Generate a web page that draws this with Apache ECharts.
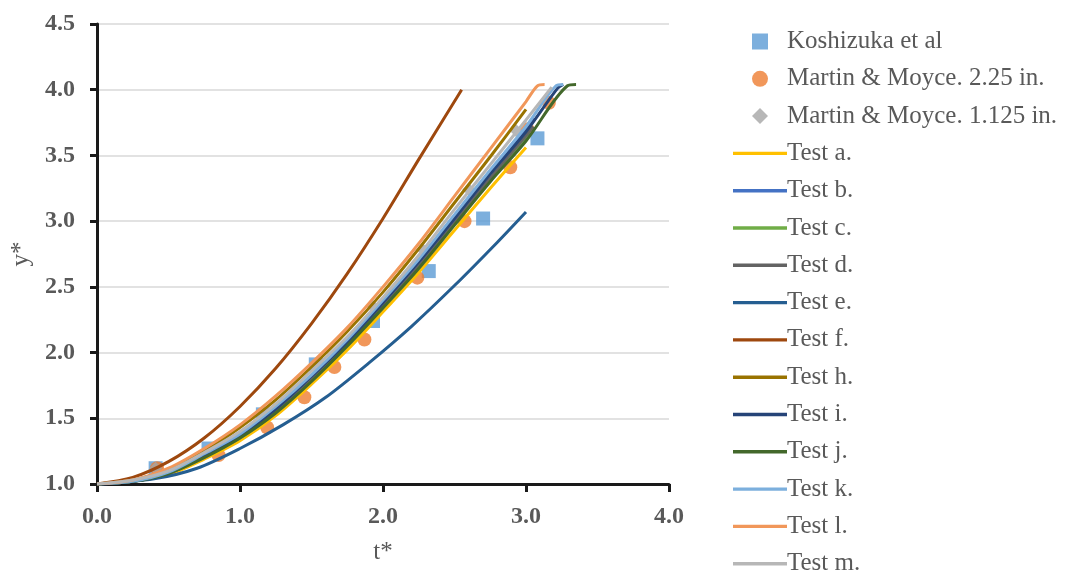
<!DOCTYPE html>
<html>
<head>
<meta charset="utf-8">
<style>
  html, body { margin: 0; padding: 0; background: #ffffff; }
  #chart { width: 1078px; height: 571px; }
</style>
<script src="https://cdn.jsdelivr.net/npm/echarts@6/dist/echarts.min.js"></script>
</head>
<body>
<div id="chart"></div>
<script>
// Experimental data (t*, y*)
const koshizukaT = [0.41, 0.78, 1.16, 1.53, 1.93, 2.32, 2.70, 3.08];
const koshizukaY = [1.12, 1.27, 1.53, 1.91, 2.24, 2.62, 3.02, 3.63];

const martin225T = [0.42, 0.85, 1.19, 1.45, 1.66, 1.87, 2.24, 2.57, 2.89, 3.01, 3.16];
const martin225Y = [1.12, 1.22, 1.43, 1.66, 1.89, 2.10, 2.57, 3.00, 3.41, 3.70, 3.90];

const martin1125T = [0.41, 0.80, 1.17, 1.55, 1.93, 2.28, 2.60, 2.93];
const martin1125Y = [1.12, 1.27, 1.53, 1.93, 2.35, 2.78, 3.24, 3.69];

// Simulated surge-front curves
const tGrid = [0, 0.25, 0.5, 0.75, 1.0, 1.25, 1.5, 1.75, 2.0, 2.25, 2.5, 2.75, 3.0];

const testAT = tGrid;
const testAY = [1.00, 1.02, 1.07, 1.19, 1.33, 1.52, 1.76, 2.02, 2.31, 2.61, 2.93, 3.25, 3.56];

const testBT = tGrid.concat([3.06]);
const testBY = [1.00, 1.02, 1.09, 1.22, 1.38, 1.58, 1.82, 2.09, 2.39, 2.70, 3.03, 3.37, 3.70, 3.78];

const testCT = tGrid.concat([3.03]);
const testCY = [1.00, 1.02, 1.08, 1.21, 1.35, 1.55, 1.79, 2.05, 2.35, 2.65, 2.98, 3.31, 3.63, 3.67];

const testDT = tGrid.concat([3.05]);
const testDY = [1.00, 1.02, 1.08, 1.21, 1.36, 1.56, 1.80, 2.06, 2.36, 2.67, 3.00, 3.33, 3.65, 3.72];

const testET = [0, 0.4, 0.7, 1.0, 1.3, 1.6, 1.9, 2.2, 2.5, 2.8, 3.0];
const testEY = [1.00, 1.04, 1.12, 1.27, 1.45, 1.66, 1.92, 2.20, 2.51, 2.84, 3.07];

const testFT = [0, 0.25, 0.5, 0.75, 1.0, 1.25, 1.5, 1.75, 2.0, 2.25, 2.55];
const testFY = [1.00, 1.05, 1.17, 1.35, 1.59, 1.88, 2.22, 2.60, 3.02, 3.47, 4.00];

const testHT = tGrid;
const testHY = [1.00, 1.03, 1.11, 1.25, 1.43, 1.64, 1.89, 2.16, 2.46, 2.79, 3.14, 3.49, 3.85];

const testIT = tGrid.concat([3.22, 3.26]);
const testIY = [1.00, 1.02, 1.09, 1.22, 1.37, 1.57, 1.82, 2.08, 2.38, 2.69, 3.02, 3.36, 3.68, 4.01, 4.04];

const testJT = tGrid.concat([3.29, 3.35]);
const testJY = [1.00, 1.02, 1.08, 1.20, 1.35, 1.54, 1.78, 2.05, 2.34, 2.64, 2.97, 3.30, 3.61, 4.03, 4.04];

const testKT = tGrid.concat([3.21, 3.26]);
const testKY = [1.00, 1.02, 1.09, 1.23, 1.38, 1.59, 1.83, 2.10, 2.40, 2.71, 3.05, 3.39, 3.72, 4.03, 4.04];

const testLT = tGrid.concat([3.08, 3.13]);
const testLY = [1.00, 1.03, 1.12, 1.27, 1.45, 1.67, 1.92, 2.19, 2.50, 2.83, 3.19, 3.55, 3.91, 4.03, 4.04];

const testMT = tGrid.concat([3.18]);
const testMY = [1.00, 1.03, 1.10, 1.24, 1.40, 1.61, 1.86, 2.12, 2.42, 2.74, 3.09, 3.43, 3.77, 4.02];

const xTicks = { min: 0, max: 4, step: 1 };
const yTicks = { min: 1, max: 4.5, step: 0.5 };

const pairs = (ts, ys) => ts.map((t, i) => [t, ys[i]]);

const FONT = 'Liberation Serif, Times New Roman, serif';
const TEXT = '#595959';

// Marker shapes as paths so the legend keeps them square
const SQUARE = 'path://M0,0L10,0L10,10L0,10Z';
const DIAMOND = 'path://M5,0L10,5L5,10L0,5Z';
const DOT = 'circle';
const STROKE = 'path://M0,0L54,0L54,3.4L0,3.4Z';

const scatter = (name, ts, ys, symbol, size, color) => ({
  name, type: 'scatter', data: pairs(ts, ys), symbol, symbolSize: size,
  itemStyle: { color }, z: 2
});
const curve = (name, ts, ys, color) => ({
  name, type: 'line', data: pairs(ts, ys), smooth: 0.3,
  symbol: 'none', showSymbol: false,
  lineStyle: { color, width: 3 }, itemStyle: { color }, z: 3
});

const series = [
  scatter('Koshizuka et al', koshizukaT, koshizukaY, SQUARE, 14, '#5B9BD5'),
  scatter('Martin & Moyce. 2.25 in.', martin225T, martin225Y, DOT, 14, '#ED7D31'),
  scatter('Martin & Moyce. 1.125 in.', martin1125T, martin1125Y, DIAMOND, 13, '#A5A5A5'),
  curve('Test a.', testAT, testAY, '#FFC000'),
  curve('Test b.', testBT, testBY, '#4472C4'),
  curve('Test c.', testCT, testCY, '#70AD47'),
  curve('Test d.', testDT, testDY, '#636363'),
  curve('Test e.', testET, testEY, '#255E91'),
  curve('Test f.', testFT, testFY, '#9E480E'),
  curve('Test h.', testHT, testHY, '#997300'),
  curve('Test i.', testIT, testIY, '#264478'),
  curve('Test j.', testJT, testJY, '#43682B'),
  curve('Test k.', testKT, testKY, '#7CAFDD'),
  curve('Test l.', testLT, testLY, '#F1975A'),
  curve('Test m.', testMT, testMY, '#B7B7B7')
];

const legendData = series.map(s => ({
  name: s.name,
  icon: s.type === 'line' ? STROKE : s.symbol,
  itemStyle: { color: s.itemStyle.color }
}));

const chart = echarts.init(document.getElementById('chart'), null, { renderer: 'canvas' });
chart.setOption({
  animation: false,
  backgroundColor: '#ffffff',
  grid: { left: 97, right: 409, top: 24, bottom: 87 },
  legend: {
    orient: 'vertical',
    left: 728,
    top: 24,
    height: 900,
    itemWidth: 54,
    itemHeight: 16,
    itemGap: 12.3,
    symbolKeepAspect: true,
    data: legendData,
    textStyle: { fontFamily: FONT, fontSize: 25, color: TEXT, lineHeight: 24, padding: [0, 0, 0, -5] }
  },
  xAxis: {
    type: 'value',
    min: xTicks.min, max: xTicks.max, interval: xTicks.step,
    name: 't*', nameLocation: 'middle', nameGap: 56,
    nameTextStyle: { fontFamily: FONT, fontSize: 25, color: TEXT },
    axisLine: { lineStyle: { color: '#1a1a1a', width: 3 } },
    axisTick: { show: true, length: 8, lineStyle: { color: '#1a1a1a', width: 3 } },
    axisLabel: { fontFamily: FONT, fontSize: 24, fontWeight: 'bold', color: TEXT, margin: 21,
      formatter: v => v.toFixed(1) },
    splitLine: { show: false }
  },
  yAxis: {
    type: 'value',
    min: yTicks.min, max: yTicks.max, interval: yTicks.step,
    name: 'y*', nameLocation: 'middle', nameGap: 62, nameRotate: 90,
    nameTextStyle: { fontFamily: FONT, fontSize: 25, color: TEXT },
    axisLine: { show: true, lineStyle: { color: '#1a1a1a', width: 3 } },
    axisTick: { show: true, length: 7, lineStyle: { color: '#1a1a1a', width: 3 } },
    axisLabel: { fontFamily: FONT, fontSize: 24, fontWeight: 'bold', color: TEXT, margin: 22,
      formatter: v => v.toFixed(1) },
    splitLine: { show: true, lineStyle: { color: '#d9d9d9', width: 1.5 } }
  },
  series
});
</script>
</body>
</html>
